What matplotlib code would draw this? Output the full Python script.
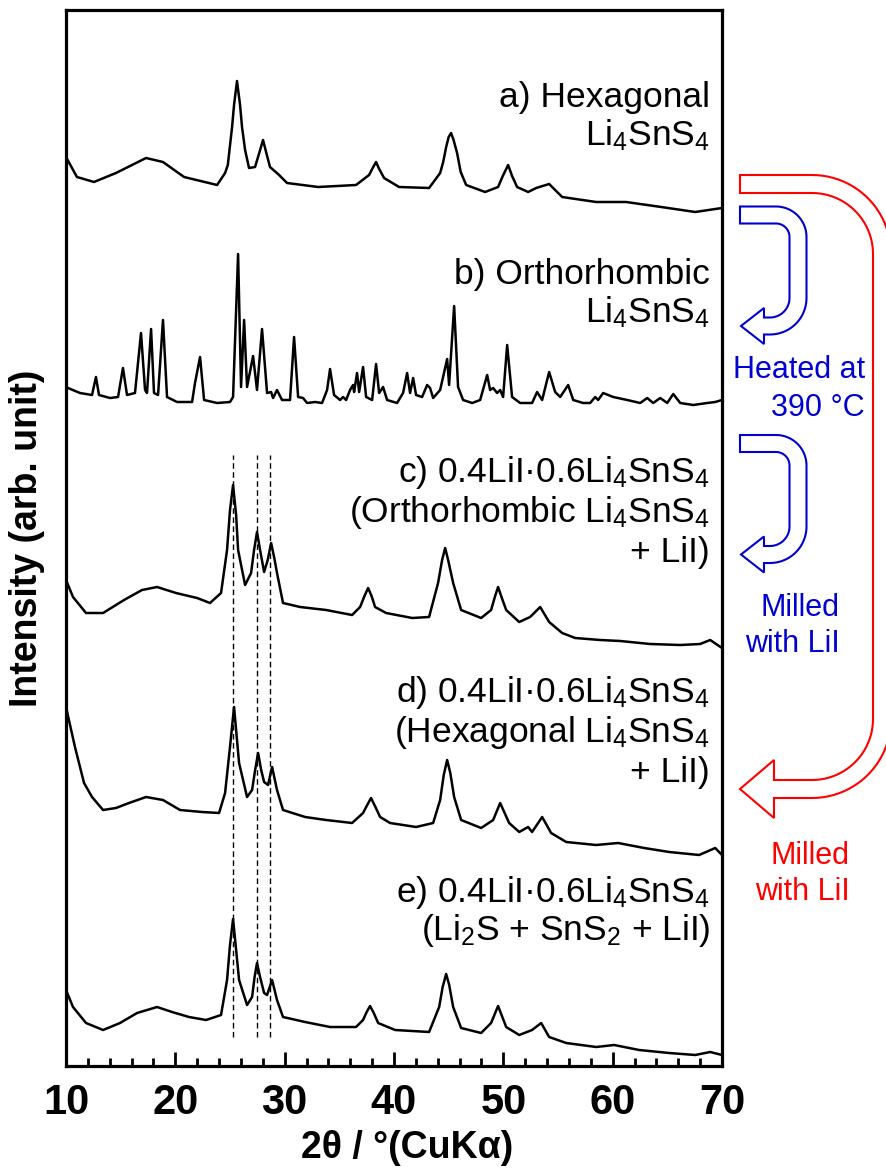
import numpy as np
import matplotlib
matplotlib.use("Agg")
import matplotlib.pyplot as plt
from matplotlib.path import Path
from matplotlib.patches import PathPatch

# ---------------- data (2theta in degrees, intensity in arb. units) ----------------
tt_a = [10.0, 11.0, 12.56, 14.57, 17.32, 18.87, 20.80, 23.82, 24.55, 24.8, 25.19, 25.37, 25.64,
        25.92, 26.10, 26.38, 26.74, 27.29, 27.7, 28.02, 28.3, 28.66, 29.49, 30.22, 33.06, 36.53,
        37.72, 38.1, 38.36, 38.6, 39.09, 40.47, 43.21, 44.22, 44.5, 44.77, 45.0, 45.22, 45.45,
        45.77, 46.1, 46.60, 48.33, 49.52, 49.95, 50.44, 50.8, 51.26, 52.27, 53.00, 54.19, 55.38,
        58.49, 61.23, 64.44, 67.55, 70.0]
I_a = [55, 35, 30, 39, 54, 50, 35, 27, 39, 47, 85, 107, 131,
       107, 85, 62, 44, 45, 60, 72, 60, 45, 37, 29, 25, 27,
       37, 45, 50, 44, 34, 25, 24, 39, 50, 65, 75, 79, 72,
       59, 40, 27, 20, 25, 36, 47, 36, 25, 20, 24, 28, 15,
       10, 10, 5, 0, 4]

tt_b = [10.0, 10.18, 11.28, 12.38, 12.74, 13.02, 14.03, 14.76, 15.21, 15.58, 16.31, 16.86, 17.23,
        17.41, 17.78, 18.05, 18.42, 18.87, 19.24, 20.16, 21.53, 21.80, 22.26, 22.63, 23.82,
        25.00, 25.28, 25.74, 26.01, 26.29, 26.56, 27.11, 27.47, 27.93, 28.39, 28.76, 28.94,
        29.30, 29.76, 30.49, 30.86, 31.23, 31.68, 32.05, 32.78, 33.42, 33.88, 34.15, 34.52,
        35.07, 35.34, 35.62, 35.98, 36.26, 36.35, 36.62, 36.81, 37.17, 37.45, 38.00, 38.36,
        38.64, 39.00, 39.37, 40.28, 40.83, 41.20, 41.47, 41.75, 42.02, 42.57, 43.03, 43.30,
        43.58, 44.22, 44.86, 45.04, 45.50, 45.86, 46.32, 47.15, 47.88, 48.52, 48.79, 49.07,
        49.43, 49.71, 49.98, 50.35, 50.80, 51.54, 52.63, 53.09, 53.55, 54.19, 54.74, 55.20,
        55.93, 56.39, 57.30, 57.94, 58.40, 58.67, 59.13, 60.05, 61.33, 62.52, 63.16, 63.71,
        64.35, 64.99, 65.54, 66.18, 67.37, 68.65, 69.38, 70.0]
I_b = [19, 17, 12, 10, 28, 10, 7, 8, 37, 10, 12, 72, 15,
       12, 76, 12, 10, 85, 8, 3, 3, 22, 48, 5, 2,
       3, 8, 151, 18, 85, 18, 49, 15, 76, 12, 13, 7,
       15, 5, 5, 68, 8, 7, 2, 3, 2, 15, 36, 10,
       5, 8, 5, 15, 20, 13, 32, 13, 38, 8, 5, 41,
       12, 18, 5, 2, 12, 32, 12, 27, 10, 8, 20, 17,
       7, 15, 46, 20, 99, 18, 5, 2, 5, 30, 15, 17,
       12, 15, 8, 60, 8, 2, 2, 13, 5, 33, 13, 8,
       20, 5, 2, 2, 8, 5, 12, 8, 5, 2, 7, 2,
       7, 2, 11, 2, 0, 2, 3, 5]

tt_c = [10.0, 10.64, 11.83, 13.39, 15.31, 16.95, 18.33, 20.06, 21.99, 23.17, 24.18, 24.73, 25.0,
        25.28, 25.56, 25.74, 26.38, 26.93, 27.2, 27.47, 27.75, 28.12, 28.45, 28.76, 29.05, 29.30,
        29.85, 31.41, 33.79, 36.17, 36.90, 37.3, 37.63, 37.95, 38.27, 39.28, 41.66, 43.21, 44.03,
        44.4, 44.68, 44.95, 45.41, 46.14, 47.97, 48.88, 49.25, 49.52, 49.8, 50.26, 51.45, 52.45,
        53.37, 54.19, 55.38, 56.57, 58.86, 60.69, 63.43, 66.18, 68.0, 68.92, 70.0]
I_c = [68, 51, 35, 35, 48, 58, 61, 55, 50, 45, 55, 98, 138,
       163, 133, 98, 63, 75, 98, 116, 98, 76, 88, 105, 90, 75,
       45, 41, 38, 33, 41, 52, 60, 52, 41, 35, 30, 31, 65,
       88, 100, 88, 65, 38, 30, 38, 52, 61, 52, 38, 26, 31,
       41, 26, 15, 10, 8, 7, 4, 3, 4, 8, 0]

tt_d = [10.0, 10.82, 11.65, 12.38, 13.39, 14.57, 15.76, 17.32, 18.87, 20.43, 22.44, 24.0, 24.55,
        25.0, 25.37, 25.83, 26.56, 27.02, 27.3, 27.57, 27.85, 28.12, 28.48, 28.85, 29.30, 29.85,
        31.87, 33.79, 36.17, 37.17, 37.55, 37.90, 38.3, 38.73, 39.64, 42.02, 43.58, 44.22, 44.55,
        44.86, 45.15, 45.50, 46.14, 47.97, 49.07, 49.71, 50.53, 51.45, 52.27, 52.63, 53.55, 54.37,
        55.75, 58.49, 60.50, 62.88, 65.17, 67.91, 69.38, 70.0]
I_d = [148, 108, 72, 58, 45, 47, 52, 58, 55, 45, 43, 42, 62,
       108, 148, 92, 58, 65, 85, 102, 85, 73, 70, 88, 65, 45,
       38, 35, 32, 42, 50, 57, 48, 38, 32, 28, 32, 55, 80,
       95, 82, 58, 35, 27, 35, 52, 32, 23, 28, 23, 38, 22,
       13, 10, 12, 7, 3, 0, 7, 0]

tt_e = [10.0, 10.64, 11.83, 13.39, 14.94, 16.50, 18.33, 19.70, 21.25, 22.81, 24.18, 24.73, 25.0,
        25.28, 25.56, 25.83, 26.56, 27.02, 27.25, 27.47, 27.75, 28.12, 28.39, 28.85, 29.30, 29.85,
        31.87, 34.15, 36.53, 37.17, 37.5, 37.81, 38.15, 38.55, 40.10, 43.21, 44.13, 44.45, 44.77,
        45.05, 45.41, 46.14, 47.97, 48.88, 49.52, 50.26, 51.45, 52.63, 53.46, 54.19, 55.75, 58.49,
        60.14, 62.42, 65.17, 67.55, 68.92, 70.0]
I_e = [65, 48, 32, 25, 32, 42, 48, 43, 38, 35, 40, 75, 110,
       136, 105, 75, 50, 58, 78, 92, 78, 62, 60, 75, 55, 38,
       33, 28, 28, 35, 43, 49, 42, 32, 25, 23, 48, 68, 81,
       70, 48, 27, 22, 32, 49, 28, 20, 25, 32, 18, 12, 8,
       10, 5, 2, 0, 3, 0]

offsets = [854, 661, 418, 211, 11]
dash_positions = [25.25, 27.45, 28.7]

labels = [
    ["a) Hexagonal", "Li$_4$SnS$_4$"],
    ["b) Orthorhombic", "Li$_4$SnS$_4$"],
    ["c) 0.4LiI·0.6Li$_4$SnS$_4$", "(Orthorhombic Li$_4$SnS$_4$", "+ LiI)"],
    ["d) 0.4LiI·0.6Li$_4$SnS$_4$", "(Hexagonal Li$_4$SnS$_4$", "+ LiI)"],
    ["e) 0.4LiI·0.6Li$_4$SnS$_4$", "(Li$_2$S + SnS$_2$ + LiI)"],
]
label_baselines = [[107, 145], [284, 322], [482, 522, 562], [702, 742, 782], [902, 940]]

# ---------------- figure ----------------
plt.rcParams['font.family'] = ['Liberation Sans', 'DejaVu Sans']
plt.rcParams['mathtext.default'] = 'regular'

W, H = 887, 1172
fig = plt.figure(figsize=(W / 100, H / 100), dpi=100)
ax_l, ax_r, ax_t, ax_b = 66, 722, 10, 1066
ax = fig.add_axes([ax_l / W, 1 - ax_b / H, (ax_r - ax_l) / W, (ax_b - ax_t) / H])

series = [(tt_a, I_a), (tt_b, I_b), (tt_c, I_c), (tt_d, I_d), (tt_e, I_e)]
for (tt, ii), off in zip(series, offsets):
    ax.plot(tt, np.asarray(ii) + off, color='black', lw=1.8, solid_joinstyle='round')

ax.vlines(dash_positions, 29, 611, colors='black', linestyles=(0, (4, 2.5)), lw=1.0)

ax.set_xlim(10, 70)
ax.set_ylim(0, ax_b - ax_t)
ax.set_xticks(np.arange(10, 71, 10))
ax.set_xticks(np.arange(10, 71, 2), minor=True)
ax.tick_params(axis='x', which='major', direction='in', length=10, width=2, pad=12,
               top=False, labelsize=30)
ax.tick_params(axis='x', which='minor', direction='in', length=6, width=2, top=False)
ax.tick_params(axis='y', left=False, labelleft=False)
for lab in ax.get_xticklabels():
    lab.set_fontweight('bold')
for sp in ax.spines.values():
    sp.set_linewidth(2.3)

ax.set_xlabel("2θ / °(CuKα)", fontsize=27, fontweight='bold', va='center')
ax.xaxis.set_label_coords(0.52, -0.078)
ax.set_ylabel("Intensity (arb. unit)", fontsize=27, fontweight='bold', va='center')
ax.yaxis.set_label_coords(-0.059, 0.5)

# sample labels (pixel positions -> axes fraction)
for lines, bases in zip(labels, label_baselines):
    for txt, yb in zip(lines, bases):
        ax.text((710 - ax_l) / (ax_r - ax_l), (ax_b - yb) / (ax_b - ax_t), txt,
                transform=ax.transAxes, ha='right', va='baseline', fontsize=25.5)

# ---------------- arrows overlay (pixel coordinates) ----------------
ov = fig.add_axes([0, 0, 1, 1], facecolor='none')
ov.set_xlim(0, W)
ov.set_ylim(H, 0)
ov.axis('off')


def centerline(pts, radii, n=24):
    pts = [np.array(p, float) for p in pts]
    out = [pts[0]]
    for i in range(1, len(pts) - 1):
        p0, p1, p2 = pts[i - 1], pts[i], pts[i + 1]
        d1 = (p1 - p0) / np.linalg.norm(p1 - p0)
        d2 = (p2 - p1) / np.linalg.norm(p2 - p1)
        r = radii[i - 1]
        # circular arc for the right-angle corner
        a = p1 - d1 * r
        ctr = a + d2 * r
        ang0 = np.arctan2(*(a - ctr)[::-1])
        b = p1 + d2 * r
        ang1 = np.arctan2(*(b - ctr)[::-1])
        dang = (ang1 - ang0 + np.pi) % (2 * np.pi) - np.pi
        t = np.linspace(0, 1, n)
        arc = ctr + r * np.stack([np.cos(ang0 + dang * t), np.sin(ang0 + dang * t)], axis=1)
        out.extend(list(arc))
    out.append(pts[-1])
    dense = [out[0]]
    for p in out[1:]:
        q = dense[-1]
        L = np.linalg.norm(p - q)
        if L > 4:
            k = int(L // 4)
            for s in np.linspace(0, 1, k + 1)[1:]:
                dense.append(q + (p - q) * s)
        elif L > 1e-9:
            dense.append(p)
    return np.array(dense)


def hollow_arrow(pts, radii, w, head_half, head_len, color):
    c = centerline(pts, radii)
    tg = np.gradient(c, axis=0)
    tg /= np.linalg.norm(tg, axis=1)[:, None]
    nrm = np.stack([-tg[:, 1], tg[:, 0]], axis=1)
    left = c + w * nrm
    right = c - w * nrm
    end = c[-1]
    d = tg[-1]
    n = nrm[-1]
    poly = list(left) + [end + head_half * n, end + head_len * d, end - head_half * n] + list(right[::-1])
    poly.append(poly[0])
    codes = [Path.MOVETO] + [Path.LINETO] * (len(poly) - 2) + [Path.CLOSEPOLY]
    ov.add_patch(PathPatch(Path(np.array(poly), codes), facecolor='white', edgecolor=color,
                           lw=1.5, joinstyle='miter', clip_on=False))


blue = '#0000d0'
red = '#ff0000'
hollow_arrow([(740, 215), (798, 215), (798, 326), (764, 326)], [22, 28], 8.5, 18, 23, blue)
hollow_arrow([(740, 443.5), (798, 443.5), (798, 554.5), (764, 554.5)], [22, 28], 8.5, 18, 23, blue)
hollow_arrow([(740, 184), (882, 184), (882, 789), (774, 789)], [70, 70], 9, 29, 34, red)

fs_side = 22
ov.text(865, 378, "Heated at", color=blue, fontsize=fs_side, ha='right', va='baseline')
ov.text(865, 416, "390 °C", color=blue, fontsize=fs_side, ha='right', va='baseline')
ov.text(840, 616, "Milled", color=blue, fontsize=fs_side, ha='right', va='baseline')
ov.text(840, 652, "with LiI", color=blue, fontsize=fs_side, ha='right', va='baseline')
ov.text(850, 864, "Milled", color=red, fontsize=fs_side, ha='right', va='baseline')
ov.text(850, 900, "with LiI", color=red, fontsize=fs_side, ha='right', va='baseline')

fig.savefig("out.png", dpi=100)
